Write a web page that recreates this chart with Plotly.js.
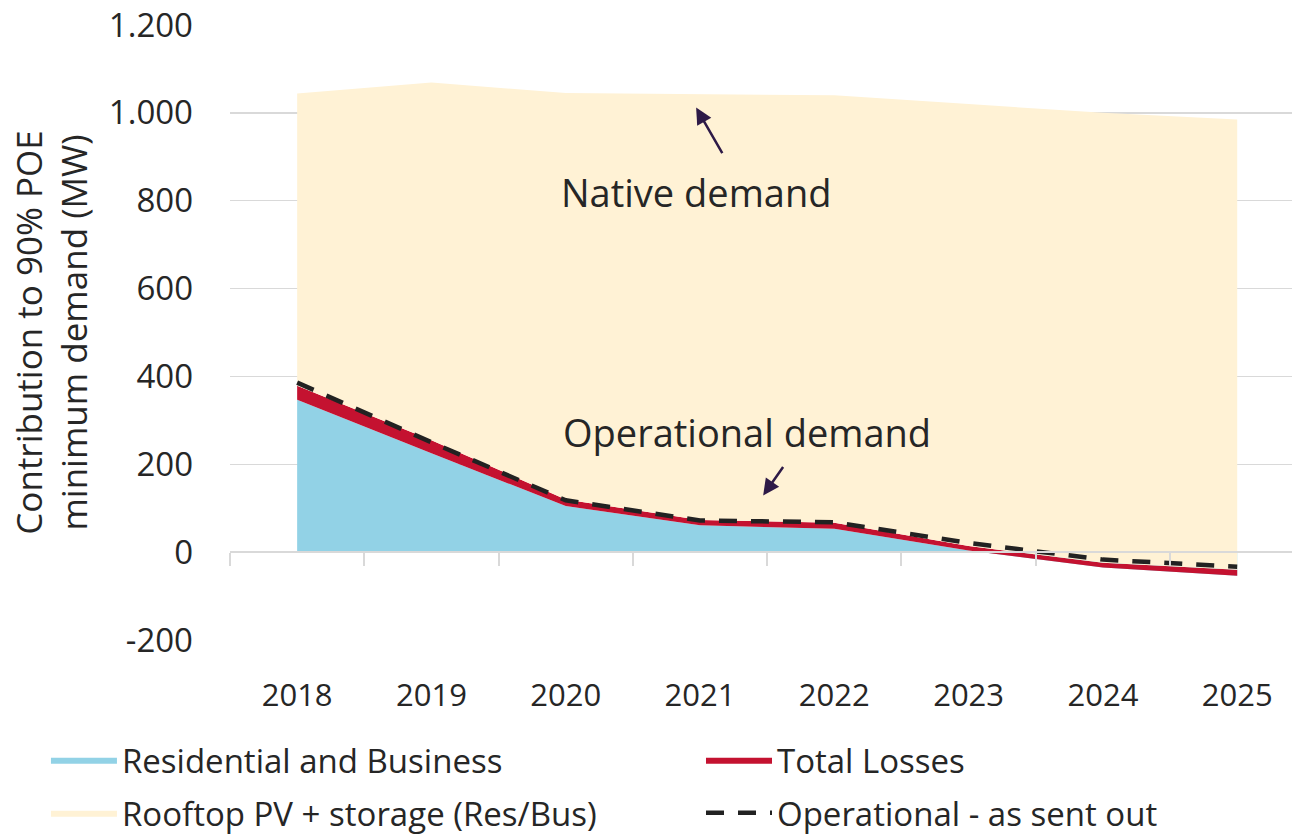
<!DOCTYPE html>
<html>
<head>
<meta charset="utf-8">
<script src="https://cdn.plot.ly/plotly-3.0.1.min.js"></script>
<style>
  html, body { margin: 0; padding: 0; background: #ffffff; }
  #chart { width: 1292px; height: 835px; }
</style>
</head>
<body>
<div id="chart"></div>
<script>
// ---- data (MW) ----
const years = ['2018', '2019', '2020', '2021', '2022', '2023', '2024', '2025'];
const residentialBusiness = [347, 225, 105, 61, 53, 4, -35, -54];
const totalLosses = [32, 30, 15, 12, 14, 10, 11, 14];
const rooftopPVStorage = [665, 814, 925, 970, 973, 1006, 1024, 1025];
const operationalSentOut = [386, 250, 118, 72, 68, 21, -17, -33];

const yTickVals = [-200, 0, 200, 400, 600, 800, 1000, 1200];
const yTickText = ['-200', '0', '200', '400', '600', '800', '1.000', '1.200'];

const FONT = 'Open Sans, Noto Sans, sans-serif';
const TXT = '#262626';

const traces = [
  {
    name: 'Residential and Business', x: years, y: residentialBusiness,
    type: 'scatter', mode: 'lines', stackgroup: 'demand',
    line: { width: 0, color: '#92D2E6' }, fillcolor: '#92D2E6',
    legend: 'legend'
  },
  {
    name: 'Total Losses', x: years, y: totalLosses,
    type: 'scatter', mode: 'lines', stackgroup: 'demand',
    line: { width: 0, color: '#C41230' }, fillcolor: '#C41230',
    legend: 'legend2'
  },
  {
    name: 'Rooftop PV + storage (Res/Bus)', x: years, y: rooftopPVStorage,
    type: 'scatter', mode: 'lines', stackgroup: 'demand',
    line: { width: 0, color: '#FFF2D5' }, fillcolor: '#FFF2D5',
    legend: 'legend3'
  },
  {
    name: 'Operational - as sent out', x: years, y: operationalSentOut,
    type: 'scatter', mode: 'lines',
    line: { width: 4.5, color: '#222222', dash: '18px,14px' },
    legend: 'legend4'
  }
];

function legendAt(x, y) {
  return {
    orientation: 'h', x: x, xanchor: 'left', y: y, yanchor: 'middle',
    font: { family: FONT, size: 33, color: TXT },
    itemwidth: 66, bgcolor: 'rgba(0,0,0,0)'
  };
}

const layout = {
  width: 1292, height: 835,
  margin: { l: 230, r: 0, t: 25, b: 195, autoexpand: false },
  paper_bgcolor: '#ffffff', plot_bgcolor: '#ffffff',
  font: { family: FONT, size: 32, color: TXT },
  showlegend: true,
  xaxis: {
    type: 'category',
    range: [-0.5, 7.408],
    anchor: 'free', position: 200 / 1400,
    showgrid: false, zeroline: false,
    showline: true, linecolor: '#D9D9D9', linewidth: 2,
    ticks: 'outside', tickson: 'boundaries', ticklen: 13, tickwidth: 2, tickcolor: '#D9D9D9',
    tickfont: { family: FONT, size: 31, color: TXT },
    ticklabelstandoff: 116,
    fixedrange: true
  },
  yaxis: {
    range: [-200, 1200],
    tickvals: yTickVals, ticktext: yTickText,
    showgrid: true, gridcolor: '#D9D9D9', gridwidth: 1.5,
    zeroline: false, showline: false, ticks: '',
    tickfont: { family: FONT, size: 33, color: TXT },
    ticklabelstandoff: 36,
    title: { text: 'Contribution to 90% POE<br>minimum demand (MW)', font: { family: FONT, size: 35, color: TXT }, standoff: 10 },
    fixedrange: true
  },
  legend: legendAt(-0.1733, -0.195),
  legend2: legendAt(0.4435, -0.195),
  legend3: legendAt(-0.1733, -0.281),
  legend4: legendAt(0.4435, -0.281),
  annotations: [
    { x: 2.97, y: 820, xref: 'x', yref: 'y', text: 'Native demand', showarrow: false,
      font: { family: FONT, size: 38, color: TXT } },
    { x: 3.347, y: 274, xref: 'x', yref: 'y', text: 'Operational demand', showarrow: false,
      font: { family: FONT, size: 38, color: TXT } },
    { x: 2.971, y: 1012, xref: 'x', yref: 'y', text: '', showarrow: true,
      ax: 27, ay: 47, arrowcolor: '#2E1A47', arrowwidth: 2.5, arrowhead: 2, arrowsize: 1.3 },
    { x: 3.47, y: 129, xref: 'x', yref: 'y', text: '', showarrow: true,
      ax: 21, ay: -30, arrowcolor: '#2E1A47', arrowwidth: 2.5, arrowhead: 2, arrowsize: 1.3 }
  ]
};

Plotly.newPlot('chart', traces, layout, { displayModeBar: false, staticPlot: true });
</script>
</body>
</html>
